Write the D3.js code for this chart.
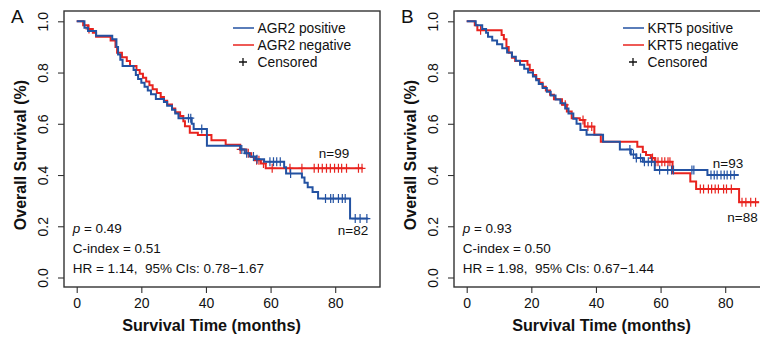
<!DOCTYPE html>
<html><head><meta charset="utf-8">
<script src="https://cdn.jsdelivr.net/npm/d3@7"></script>
<style>
body{margin:0;background:#fff;}
text{font-family:"Liberation Sans",Arial,sans-serif;white-space:pre;}
</style></head>
<body><svg id="c" width="760" height="341"></svg>
<script>
// ---------- data ----------
const xTicks = [0, 20, 40, 60, 80];
const yTicks = [0.0, 0.2, 0.4, 0.6, 0.8, 1.0];

// Panel A: AGR2
const agr2PosTime = [0,2.4,3.5,6,11,12.3,12.8,13.5,14.2,17.6,18.3,19,20,21,22,23,24.5,27,28,29.5,30.5,31.5,35.6,36.2,40.3,50.7,52,53.5,55.5,58,64.2,64.8,69.7,70.5,71.5,73,74.7,84.6,90.2];
const agr2PosSurv = [1,0.975,0.962,0.944,0.93,0.9,0.87,0.85,0.826,0.81,0.79,0.775,0.76,0.745,0.73,0.715,0.697,0.685,0.67,0.655,0.64,0.622,0.6,0.58,0.514,0.5,0.485,0.472,0.462,0.452,0.43,0.406,0.39,0.37,0.352,0.334,0.308,0.23,0.23];
const agr2PosCens = [34.6,35.3,38.7,51.1,52.6,54.7,55.8,59.8,60.9,61.9,63,66.2,77,78.6,79.4,81,82.2,83.1,86.2,87.7,89.8];

const agr2NegTime = [0,2,3.5,5,6,10.5,12,12.5,14,15.5,16.5,18.5,19.5,20.5,21.5,22.5,23.5,24.8,26,27,28,29.5,30.5,32,33,33.5,35,37.5,41.7,46.1,50.6,52.5,54,55,57,58.5,88.6];
const agr2NegSurv = [1,0.985,0.97,0.955,0.94,0.925,0.9,0.877,0.86,0.845,0.826,0.81,0.795,0.78,0.765,0.75,0.735,0.72,0.705,0.69,0.675,0.66,0.645,0.63,0.61,0.59,0.565,0.556,0.536,0.518,0.5,0.485,0.47,0.458,0.445,0.426,0.426];
const agr2NegCens = [3.8,50.6,53.1,55.7,56.4,57.8,60.5,66,69.7,73.5,74.8,76,77.3,78.5,79.8,81,82,83.5,87.2,88.3];

// Panel B: KRT5
const krt5PosTime = [0,2.8,4.8,6,6.6,7.9,9.4,11,12.5,14,15.2,16.5,17.8,19,20.5,21.5,22.3,23.5,24.8,26,27.5,29,30.5,31.5,33,34,35.2,37.1,42.2,47.4,50.8,52.5,54.5,58.2,74.5,84.2];
const krt5PosSurv = [1,0.985,0.97,0.955,0.94,0.925,0.91,0.895,0.878,0.862,0.846,0.83,0.815,0.8,0.785,0.77,0.755,0.74,0.725,0.71,0.695,0.68,0.66,0.64,0.62,0.6,0.576,0.557,0.53,0.5,0.48,0.466,0.452,0.42,0.4,0.4];
const krt5PosCens = [50.5,51.6,52.5,53.8,55,56.2,57.2,59.7,62.2,63.4,64,69.7,70.3,75.6,76.6,77.5,78.7,79.7,80.6,81.7,82.8];

const krt5NegTime = [0,2.5,3.3,10.8,11.5,12.3,13,14,15,18.8,19.5,20.5,21.5,22.5,23.5,24.5,25.8,27,29.5,31,32.5,35,36.5,39.5,41.5,52.8,54.5,55.5,57,58.2,63.7,69.2,71,84.3,90.5];
const krt5NegSurv = [1,0.985,0.965,0.947,0.93,0.9,0.877,0.858,0.845,0.83,0.81,0.79,0.775,0.76,0.745,0.73,0.713,0.696,0.674,0.648,0.622,0.615,0.589,0.557,0.53,0.51,0.49,0.478,0.466,0.452,0.407,0.375,0.345,0.294,0.294];
const krt5NegCens = [4.3,30.5,36,37.5,38.7,57.5,58.5,59.2,60.4,61.3,62.3,62.9,72.3,73.3,74.8,75.8,76.9,77.9,79.5,80.4,81.9,85.2,86.4,87.9,89.4];

const panels = [
  {label:"A", gene:"AGR2", dx:0,
   pos:{t:agr2PosTime,s:agr2PosSurv,c:agr2PosCens}, neg:{t:agr2NegTime,s:agr2NegSurv,c:agr2NegCens},
   stats:["0.49","C-index = 0.51","HR = 1.14,  95% CIs: 0.78\u22121.67"],
   nPos:"n=82", nNeg:"n=99"},
  {label:"B", gene:"KRT5", dx:390,
   pos:{t:krt5PosTime,s:krt5PosSurv,c:krt5PosCens}, neg:{t:krt5NegTime,s:krt5NegSurv,c:krt5NegCens},
   stats:["0.93","C-index = 0.50","HR = 1.98,  95% CIs: 0.67\u22121.44"],
   nPos:"n=93", nNeg:"n=88"}
];

// ---------- drawing ----------
const BLUE = "#2352a2", RED = "#e8231e";
const svg = d3.select("#c");

function survAt(t, times, surv){
  let v = surv[0];
  for (let i=0;i<times.length;i++){ if (times[i] <= t) v = surv[i]; }
  return v;
}

panels.forEach(p => {
  const g = svg.append("g").attr("transform", `translate(${p.dx},0)`);
  const x = d3.scaleLinear().domain([0,80]).range([76.7,335.2]);
  const y = d3.scaleLinear().domain([0,1]).range([277.5,21.3]);
  const left = 64, top = 11, right = 380, bottom = 287;

  // box
  g.append("rect").attr("x",left).attr("y",top).attr("width",right-left).attr("height",bottom-top)
    .attr("fill","none").attr("stroke","#333").attr("stroke-width",1.4);

  // x axis
  const xa = g.append("g").attr("transform",`translate(0,${bottom})`)
    .call(d3.axisBottom(x).tickValues(xTicks).tickSize(6).tickPadding(5).tickSizeOuter(0).tickFormat(d3.format("d")));
  xa.select(".domain").remove();
  xa.selectAll("line").attr("stroke","#333").attr("stroke-width",1.1);
  xa.selectAll("text").attr("font-size","14px").attr("fill","#111").style("font-family","'Liberation Sans',Arial,sans-serif");

  // y axis
  const ya = g.append("g").attr("transform",`translate(${left},0)`)
    .call(d3.axisLeft(y).tickValues(yTicks).tickSize(6).tickSizeOuter(0).tickFormat(d3.format(".1f")));
  ya.select(".domain").remove();
  ya.selectAll("line").attr("stroke","#333").attr("stroke-width",1.1);
  ya.selectAll("text").attr("transform","rotate(-90)").attr("x",0).attr("y",-16).attr("dy",0)
    .attr("text-anchor","middle").attr("font-size","14px").attr("fill","#111")
    .style("font-family","'Liberation Sans',Arial,sans-serif");

  // titles
  g.append("text").attr("x",211.5).attr("y",331).attr("text-anchor","middle")
    .attr("font-size","16.2px").attr("font-weight","bold").attr("fill","#111").text("Survival Time (months)");
  g.append("text").attr("transform","translate(26,155) rotate(-90)").attr("text-anchor","middle")
    .attr("font-size","16px").attr("font-weight","bold").attr("fill","#111").text("Overall Survival (%)");
  g.append("text").attr("x",11).attr("y",23).attr("font-size","19px").attr("fill","#111").text(p.label);

  // curves
  const line = d3.line().x(d=>x(d[0])).y(d=>y(d[1])).curve(d3.curveStepAfter);
  [[p.neg,RED],[p.pos,BLUE]].forEach(([c,col]) => {
    const pts = c.t.map((t,i)=>[t,c.s[i]]);
    g.append("path").attr("d",line(pts)).attr("fill","none").attr("stroke",col).attr("stroke-width",2);
    c.c.forEach(ct => {
      const cx = x(ct), cy = y(survAt(ct,c.t,c.s));
      g.append("path").attr("d",`M${cx-3.5},${cy}H${cx+3.5}M${cx},${cy-4.5}V${cy+4.5}`)
        .attr("stroke",col).attr("stroke-width",1.2).attr("fill","none");
    });
  });

  // legend
  const lx0 = 233, lx1 = 254, tx = 257.5;
  [[p.gene+" positive",BLUE,28],[p.gene+" negative",RED,45]].forEach(([t,col,yy])=>{
    g.append("line").attr("x1",lx0).attr("x2",lx1).attr("y1",yy).attr("y2",yy).attr("stroke",col).attr("stroke-width",1.5);
    g.append("text").attr("x",tx).attr("y",yy+5).attr("font-size","13.8px").attr("fill","#111").text(t);
  });
  g.append("path").attr("d",`M${239},62H${247}M243,58V66`).attr("stroke","#111").attr("stroke-width",1.3);
  g.append("text").attr("x",tx).attr("y",67).attr("font-size","13.8px").attr("fill","#111").text("Censored");

  // stats
  const st = g.append("text").attr("x",72.7).attr("y",233).attr("font-size","13.5px").attr("fill","#111");
  st.append("tspan").attr("font-style","italic").text("p");
  st.append("tspan").text(" = " + p.stats[0]);
  g.append("text").attr("x",72.7).attr("y",253).attr("font-size","13.5px").attr("fill","#111").text(p.stats[1]);
  g.append("text").attr("x",72.7).attr("y",273).attr("font-size","13.5px").attr("fill","#111").text(p.stats[2]);

  // n labels
  if (p.label === "A"){
    g.append("text").attr("x",334).attr("y",158).attr("text-anchor","middle").attr("font-size","13.5px").attr("fill","#111").text(p.nNeg);
    g.append("text").attr("x",353).attr("y",235).attr("text-anchor","middle").attr("font-size","13.5px").attr("fill","#111").text(p.nPos);
  } else {
    g.append("text").attr("x",338).attr("y",168).attr("text-anchor","middle").attr("font-size","13.5px").attr("fill","#111").text(p.nPos);
    g.append("text").attr("x",352.5).attr("y",221.5).attr("text-anchor","middle").attr("font-size","13.5px").attr("fill","#111").text(p.nNeg);
  }
});
</script></body></html>
